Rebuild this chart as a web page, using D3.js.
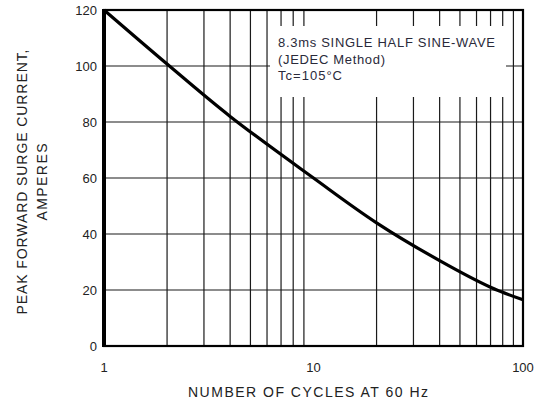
<!DOCTYPE html>
<html>
<head>
<meta charset="utf-8">
<script src="https://cdn.jsdelivr.net/npm/d3@7"></script>
<style>
  body { margin: 0; background: #fff; }
  text { font-family: "Liberation Sans", Arial, sans-serif; fill: #222; }
</style>
</head>
<body>
<svg id="chart" width="544" height="403"></svg>
<script>
// Curve (cycles, amperes)
const cycles = [1, 2, 4, 10, 20, 40, 70, 100];
const amps = [120, 100.7, 82, 60, 44, 30.5, 21, 16.5];

const xTicks = [1, 10, 100];
const xGrid = [2, 3, 4, 5, 6, 7, 8, 9, 20, 30, 40, 50, 60, 70, 80, 90];
const yTicks = [0, 20, 40, 60, 80, 100, 120];
const noteLines = ["8.3ms SINGLE HALF SINE-WAVE", "(JEDEC Method)", "Tc=105\u00B0C"];
const noteWidths = [217, 107, 64];

const svg = d3.select("#chart");
const plot = { left: 104, right: 523, top: 10, bottom: 346 };

const x = d3.scaleLog().domain([1, 100]).range([plot.left, plot.right]);
const y = d3.scaleLinear().domain([0, 120]).range([plot.bottom, plot.top]);

// grid
svg.append("g")
    .selectAll("line")
    .data(xGrid)
    .join("line")
    .attr("x1", d => x(d)).attr("x2", d => x(d))
    .attr("y1", plot.top).attr("y2", plot.bottom)
    .attr("stroke", "#1a1a1a").attr("stroke-width", 1.2);

svg.append("g")
    .selectAll("line")
    .data(yTicks.slice(1, -1))
    .join("line")
    .attr("x1", plot.left).attr("x2", plot.right)
    .attr("y1", d => y(d)).attr("y2", d => y(d))
    .attr("stroke", "#1a1a1a").attr("stroke-width", 1.2);

// white box behind the note
svg.append("rect")
    .attr("x", 270).attr("y", 26)
    .attr("width", 236).attr("height", 71)
    .attr("fill", "#fff");

// frame
svg.append("rect")
    .attr("x", plot.left).attr("y", plot.top)
    .attr("width", plot.right - plot.left).attr("height", plot.bottom - plot.top)
    .attr("fill", "none").attr("stroke", "#000").attr("stroke-width", 2.2);
svg.append("line")
    .attr("x1", plot.left).attr("x2", plot.left)
    .attr("y1", plot.top - 1).attr("y2", plot.bottom + 1)
    .attr("stroke", "#000").attr("stroke-width", 4);

// curve
const line = d3.line()
    .x((d, i) => x(cycles[i]))
    .y(d => y(d))
    .curve(d3.curveCatmullRom.alpha(0.5));

svg.append("path")
    .datum(amps)
    .attr("d", line)
    .attr("fill", "none")
    .attr("stroke", "#000")
    .attr("stroke-width", 3.2);

// tick labels
svg.append("g")
    .selectAll("text")
    .data(yTicks)
    .join("text")
    .attr("x", 97)
    .attr("y", d => y(d) + 5)
    .attr("text-anchor", "end")
    .style("font-size", "13px")
    .text(d => d);

svg.append("g")
    .selectAll("text")
    .data(xTicks)
    .join("text")
    .attr("x", d => x(d))
    .attr("y", 372)
    .attr("text-anchor", "middle")
    .style("font-size", "13px")
    .text(d => d);

// axis titles
svg.append("text")
    .attr("x", 308)
    .attr("y", 397)
    .attr("text-anchor", "middle")
    .attr("textLength", 240)
    .style("font-size", "14px")
    .text("NUMBER OF CYCLES AT 60 Hz");

const yTitle = svg.append("text")
    .attr("transform", "translate(0,182) rotate(-90)")
    .attr("text-anchor", "middle")
    .style("font-size", "14px");
yTitle.append("tspan").attr("x", 0).attr("y", 27).attr("textLength", 265)
    .text("PEAK FORWARD SURGE CURRENT,");
yTitle.append("tspan").attr("x", 0).attr("y", 47).attr("textLength", 77)
    .text("AMPERES");

// note
svg.append("g")
    .selectAll("text")
    .data(noteLines)
    .join("text")
    .attr("x", 278)
    .attr("y", (d, i) => 47 + i * 16.5)
    .attr("textLength", (d, i) => noteWidths[i])
    .style("font-size", "13px")
    .style("fill", "#2a2a3a")
    .text(d => d);
</script>
</body>
</html>
